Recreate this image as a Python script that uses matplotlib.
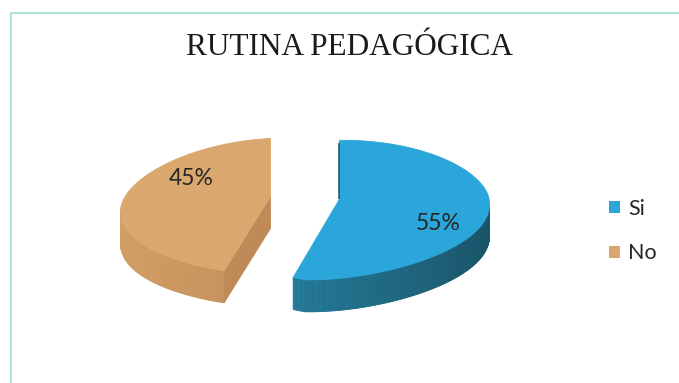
import numpy as np
import matplotlib.pyplot as plt
from matplotlib.patches import Polygon, Patch

# ---- data ----
title = "RUTINA PEDAGÓGICA"
categories = ["Si", "No"]
values = [55, 45]
labels = ["55%", "45%"]

# ---- styling ----
top_colors = ["#2BA6DA", "#DAA86F"]
wall_light = [(40, 140, 175), (210, 158, 100)]
wall_dark = [(25, 85, 105), (175, 125, 78)]
face_colors = ["#1F6E8E", "#BF8A57"]
edge_dark = "#1A5C78"
text_color = "#262626"

W, H = 679, 383
fig = plt.figure(figsize=(W / 100, H / 100), dpi=100)
ax = fig.add_axes([0, 0, 1, 1])
ax.set_xlim(0, W)
ax.set_ylim(H, 0)
ax.axis("off")

# thin frame around the chart area
frame_kw = dict(color="#A9E5D6", lw=1.4, solid_capstyle="butt")
ax.plot([10, W], [13, 13], **frame_kw)
ax.plot([10.5, 10.5], [13, H], **frame_kw)

# ---- 3D pie geometry (tilted disc with a mild perspective warp) ----
CX, CY = 305, 197
RX, RY_BACK, RY_FRONT = 150, 58, 82
Q, L, M = 7.0, -5.0, 12.0
DEPTH = 32
EXPLODE = 0.233


def proj(X, Y, dz=0.0, warp=True):
    X = np.asarray(X, float)
    Y = np.asarray(Y, float)
    ry = np.where(Y > 0, RY_BACK, RY_FRONT)
    y = CY - ry * Y + dz
    if warp:
        y = y + Q * X ** 2 + L * X + M * np.abs(X) * np.minimum(Y, 0)
    return CX + RX * X, y


def rgb(c):
    return tuple(v / 255 for v in c)


total = float(sum(values))
start = 90.0
for i, v in enumerate(values):
    a0 = start
    a1 = start - v / total * 360.0
    start = a1
    mid = np.radians((a0 + a1) / 2)
    ox, oy = EXPLODE * np.cos(mid), EXPLODE * np.sin(mid)

    t = np.radians(np.linspace(a1, a0, 300))
    Xa, Ya = ox + np.cos(t), oy + np.sin(t)

    # outer side wall (front half only), shaded by direction
    front = np.sin(t) < 0
    xt, yt = proj(Xa, Ya)
    xb, yb = proj(Xa, Ya, DEPTH)
    for k in range(len(t) - 1):
        if front[k] and front[k + 1]:
            f = (np.cos(t[k]) + 1) / 2
            col = [(1 - f) * a + f * b for a, b in zip(wall_light[i], wall_dark[i])]
            poly = [(xt[k], yt[k]), (xt[k + 1], yt[k + 1]),
                    (xb[k + 1], yb[k + 1]), (xb[k], yb[k])]
            ax.add_patch(Polygon(poly, closed=True, facecolor=rgb(col),
                                 edgecolor=rgb(col), lw=0.6))

    # radial cut faces that turn towards the viewer
    cx_, cy_ = proj(ox, oy)
    _, cyb = proj(ox, oy, DEPTH)
    for ang, normal in ((a0, a0 + 90), (a1, a1 - 90)):
        ex0, ey0 = ox + np.cos(np.radians(ang)), oy + np.sin(np.radians(ang))
        if np.sin(np.radians(normal)) < -0.05:
            ex, ey = proj(ex0, ey0)
            _, eyb = proj(ex0, ey0, DEPTH)
            poly = [(cx_, cy_), (ex, ey), (ex, eyb), (cx_, cyb)]
            ax.add_patch(Polygon(poly, closed=True, facecolor=face_colors[i],
                                 edgecolor=face_colors[i], lw=0.6))

    # top face
    px = np.concatenate([[float(cx_)], xt])
    py = np.concatenate([[float(cy_)], yt])
    ax.add_patch(Polygon(np.column_stack([px, py]), closed=True,
                         facecolor=top_colors[i], edgecolor=top_colors[i], lw=0.6))

    # cut face seen edge-on along the back radius: a thin dark rim
    if i == 0:
        ex, ey = proj(ox + np.cos(np.radians(a0)), oy + np.sin(np.radians(a0)))
        ax.plot([float(ex) - 0.4, float(cx_) - 0.4], [float(ey) + 3, float(cy_)],
                color=edge_dark, lw=1.2, solid_capstyle="butt")

    # percentage label
    la = mid - np.radians(17)
    lx, ly = proj(ox + 0.66 * np.cos(la), oy + 0.66 * np.sin(la), warp=False)
    ax.annotate(labels[i], (float(lx), float(ly)), xytext=(7, 0),
                textcoords="offset points", ha="center", va="center",
                fontsize=16.5, family="Lato", color=text_color, zorder=5)

# ---- title ----
ax.text(349, 55, title, ha="center", va="baseline", fontsize=22.5,
        family="Liberation Serif", color="#1a1a1a")

# ---- legend ----
handles = [Patch(facecolor=top_colors[i], edgecolor="none", label=categories[i])
           for i in range(len(categories))]
ax.legend(handles=handles, loc="center left", bbox_to_anchor=(609 / W, 1 - 231 / H),
          frameon=False, prop={"family": "Lato", "size": 15.5},
          handlelength=0.5, handleheight=0.5, handletextpad=0.4,
          labelspacing=1.15, borderpad=0, borderaxespad=0, labelcolor=text_color)

fig.savefig("out.png", dpi=100, facecolor="white")
